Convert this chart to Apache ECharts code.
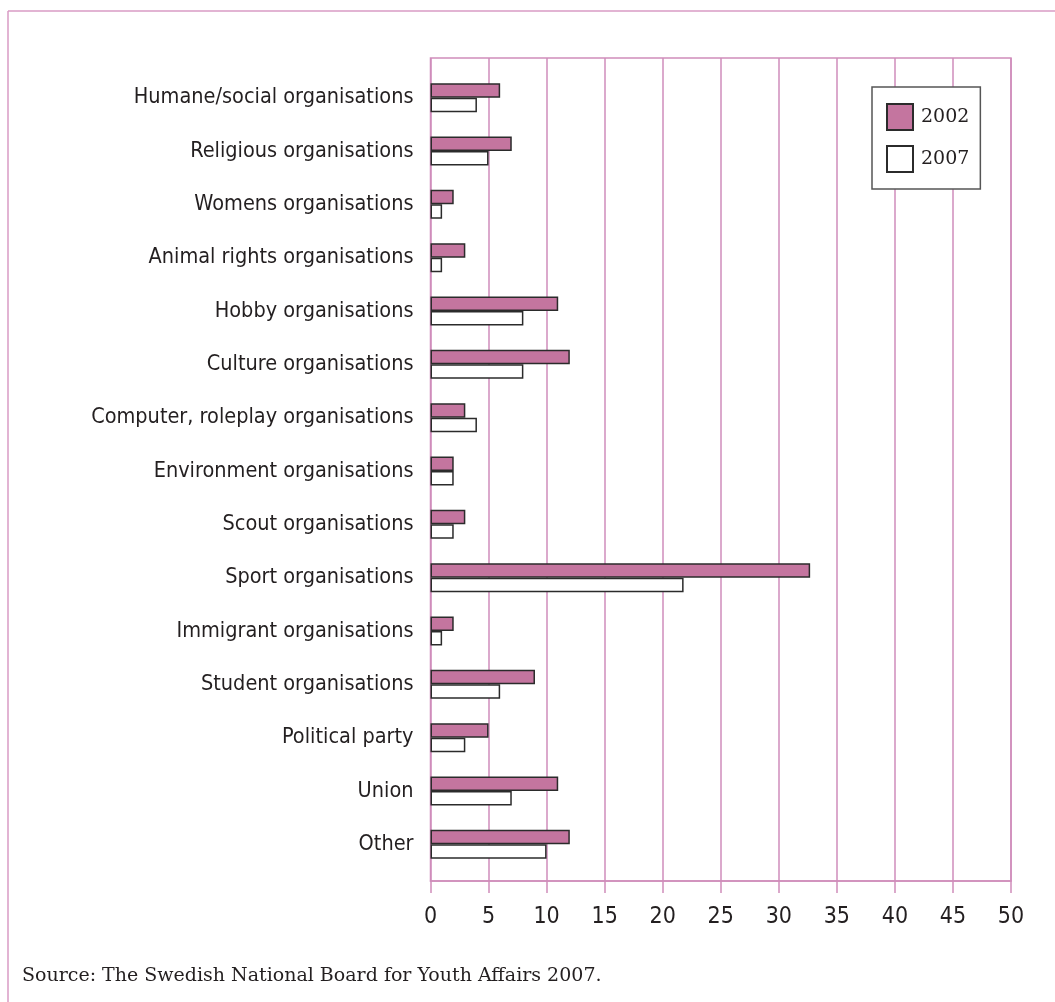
<!DOCTYPE html>
<html>
<head>
<meta charset="utf-8">
<script src="https://cdn.jsdelivr.net/npm/echarts@6/dist/echarts.min.js"></script>
<style>
html,body{margin:0;padding:0;background:#fff;}
#chart{width:1055px;height:1002px;}
</style>
</head>
<body>
<div id="chart"></div>
<script>
const categories = [
  "Humane/social organisations",
  "Religious organisations",
  "Womens organisations",
  "Animal rights organisations",
  "Hobby organisations",
  "Culture organisations",
  "Computer, roleplay organisations",
  "Environment organisations",
  "Scout organisations",
  "Sport organisations",
  "Immigrant organisations",
  "Student organisations",
  "Political party",
  "Union",
  "Other"
];
const values2002 = [6, 7, 2, 3, 11, 12, 3, 2, 3, 32.7, 2, 9, 5, 11, 12];
const values2007 = [4, 5, 1, 1, 8, 8, 4, 2, 2, 21.8, 1, 6, 3, 7, 10];
const seriesNames = ["2002", "2007"];
const xTicks = {min: 0, max: 50, interval: 5};
const sourceText = "Source: The Swedish National Board for Youth Affairs 2007.";

const condensed = '"Liberation Sans Narrow", "DejaVu Sans Condensed", "Roboto Condensed", sans-serif';
const serif = '"DejaVu Serif", "Liberation Serif", serif';
const pink = '#cf8dbb';
const frame = '#d99bc4';
const textCol = '#231f20';

const chart = echarts.init(document.getElementById('chart'), null, {renderer: 'canvas'});

const option = {
  animation: false,
  backgroundColor: '#fff',
  graphic: [
    {type: 'line', shape: {x1: 8, y1: 11, x2: 1055, y2: 11}, style: {stroke: frame, lineWidth: 1.5}, silent: true},
    {type: 'line', shape: {x1: 8, y1: 11, x2: 8, y2: 1002}, style: {stroke: frame, lineWidth: 1.5}, silent: true},
    {type: 'text', left: 22, top: 967, style: {text: sourceText, font: '19px ' + serif, fill: textCol}, silent: true}
  ],
  legend: {
    orient: 'vertical',
    left: 872,
    top: 87,
    data: seriesNames,
    icon: 'rect',
    itemWidth: 26,
    itemHeight: 26,
    itemGap: 14,
    padding: [16, 11, 16, 14],
    backgroundColor: '#fff',
    borderColor: '#555',
    borderWidth: 1.5,
    textStyle: {fontFamily: serif, fontSize: 19, color: textCol, padding: [0, 0, 0, 3]}
  },
  grid: [
    {left: 430.5, top: 71, width: 580.5, height: 800, containLabel: false},
    {left: 430.5, top: 58, width: 580.5, height: 823, containLabel: false, show: true, borderColor: pink, borderWidth: 1.5, backgroundColor: 'transparent', z: 0}
  ],
  xAxis: [
    {gridIndex: 0, type: 'value', min: xTicks.min, max: xTicks.max, interval: xTicks.interval, show: false},
    {gridIndex: 1, type: 'value', min: xTicks.min, max: xTicks.max, interval: xTicks.interval,
     axisLine: {show: true, lineStyle: {color: pink, width: 1.5}},
     axisTick: {show: true, length: 12, lineStyle: {color: pink, width: 1.5}},
     splitLine: {show: true, lineStyle: {color: pink, width: 1.5}},
     axisLabel: {margin: 25, fontFamily: condensed, fontSize: 23, color: textCol}
    }
  ],
  yAxis: [
    {gridIndex: 0, type: 'category', data: categories, inverse: true,
     axisLine: {show: false}, axisTick: {show: false}, splitLine: {show: false},
     axisLabel: {margin: 17, fontFamily: condensed, fontSize: 21.5, color: textCol}
    },
    {gridIndex: 1, type: 'value', show: false, min: 0, max: 1}
  ],
  series: [
    {name: seriesNames[0], type: 'bar', xAxisIndex: 0, yAxisIndex: 0, data: values2002,
     barWidth: 14.5, barGap: '0%',
     itemStyle: {color: '#c4759f', borderColor: '#2b2b2b', borderWidth: 1.5}, z: 3},
    {name: seriesNames[1], type: 'bar', xAxisIndex: 0, yAxisIndex: 0, data: values2007,
     barWidth: 14.5, barGap: '0%',
     itemStyle: {color: '#ffffff', borderColor: '#2b2b2b', borderWidth: 1.5}, z: 3}
  ]
};
chart.setOption(option);
</script>
</body>
</html>
